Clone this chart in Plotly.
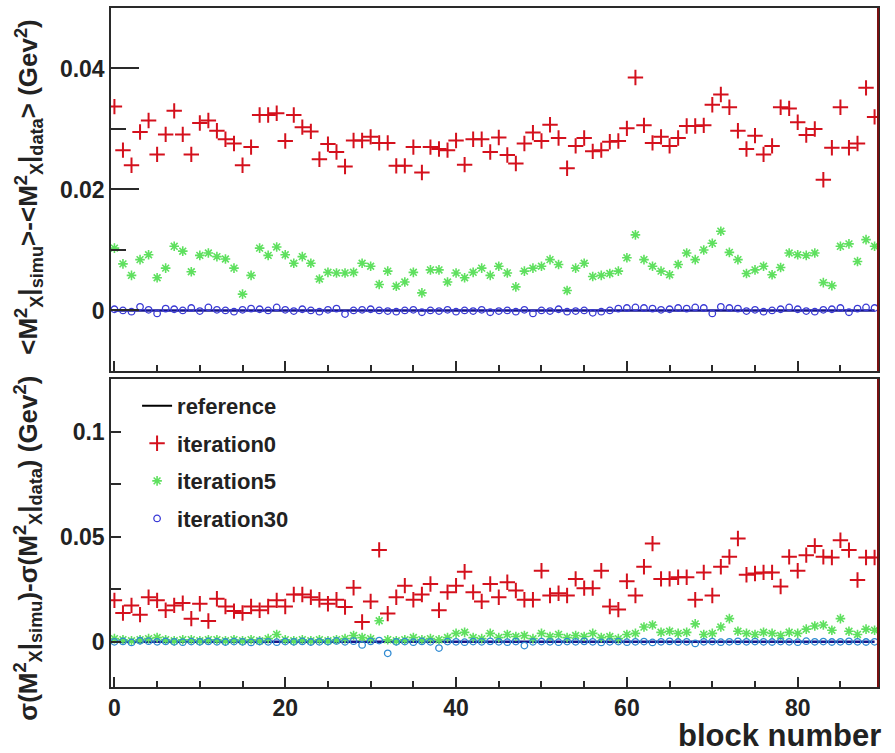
import plotly.graph_objects as go

blocks = list(range(90))

# top panel: <M2x|simu> - <M2x|data>  (GeV^2)
mean_iter0 = [0.0337, 0.0265, 0.0240, 0.0295, 0.0314, 0.0258, 0.0291, 0.0330, 0.0291, 0.0258,
              0.0310, 0.0314, 0.0297, 0.0283, 0.0276, 0.0240, 0.0270, 0.0323, 0.0323, 0.0326,
              0.0280, 0.0323, 0.0303, 0.0296, 0.0250, 0.0275, 0.0262, 0.0238, 0.0281, 0.0281,
              0.0287, 0.0277, 0.0277, 0.0239, 0.0239, 0.0270, 0.0228, 0.0270, 0.0267, 0.0265,
              0.0281, 0.0241, 0.0283, 0.0283, 0.0262, 0.0286, 0.0257, 0.0243, 0.0276, 0.0294,
              0.0280, 0.0307, 0.0285, 0.0235, 0.0272, 0.0285, 0.0263, 0.0265, 0.0279, 0.0280,
              0.0301, 0.0385, 0.0306, 0.0277, 0.0287, 0.0272, 0.0285, 0.0305, 0.0305, 0.0306,
              0.0340, 0.0357, 0.0336, 0.0297, 0.0267, 0.0289, 0.0258, 0.0272, 0.0336, 0.0334,
              0.0311, 0.0290, 0.0300, 0.0216, 0.0269, 0.0336, 0.0269, 0.0276, 0.0368, 0.0320]
mean_iter5 = [0.0103, 0.0077, 0.0058, 0.0084, 0.0092, 0.0054, 0.0070, 0.0106, 0.0098, 0.0064,
              0.0091, 0.0095, 0.0089, 0.0085, 0.0070, 0.0027, 0.0058, 0.0103, 0.0091, 0.0105,
              0.0092, 0.0078, 0.0089, 0.0078, 0.0052, 0.0063, 0.0062, 0.0062, 0.0063, 0.0078,
              0.0073, 0.0043, 0.0065, 0.0040, 0.0047, 0.0063, 0.0029, 0.0067, 0.0067, 0.0047,
              0.0062, 0.0054, 0.0063, 0.0070, 0.0058, 0.0073, 0.0062, 0.0039, 0.0065, 0.0070,
              0.0073, 0.0084, 0.0076, 0.0033, 0.0070, 0.0078, 0.0056, 0.0058, 0.0061, 0.0065,
              0.0087, 0.0125, 0.0084, 0.0073, 0.0065, 0.0059, 0.0076, 0.0095, 0.0084, 0.0100,
              0.0111, 0.0131, 0.0096, 0.0084, 0.0061, 0.0067, 0.0073, 0.0059, 0.0071, 0.0095,
              0.0092, 0.0091, 0.0095, 0.0046, 0.0041, 0.0106, 0.0110, 0.0081, 0.0117, 0.0106]
mean_iter30 = [0.0002, 0.0000, -0.0002, 0.0006, 0.0001, -0.0005, 0.0003, 0.0002, 0.0000, 0.0004,
               -0.0001, 0.0005, 0.0001, 0.0000, -0.0002, 0.0001, 0.0003, 0.0002, 0.0000, 0.0005,
               0.0001, -0.0001, 0.0002, 0.0000, -0.0002, 0.0001, 0.0003, -0.0006, 0.0000, 0.0001,
               0.0002, 0.0000, -0.0001, -0.0002, 0.0000, 0.0001, -0.0003, 0.0000, -0.0001, 0.0001,
               -0.0002, 0.0000, -0.0001, 0.0001, -0.0003, -0.0001, 0.0000, -0.0002, 0.0001, -0.0005,
               0.0000, -0.0001, 0.0002, -0.0002, -0.0001, 0.0000, -0.0004, -0.0002, 0.0000, 0.0003,
               0.0004, 0.0005, 0.0004, 0.0003, 0.0001, 0.0002, 0.0004, 0.0003, 0.0005, 0.0004,
               -0.0005, 0.0006, 0.0004, 0.0003, -0.0001, 0.0001, -0.0002, 0.0000, 0.0002, 0.0005,
               0.0002, -0.0001, -0.0002, 0.0001, 0.0002, 0.0004, -0.0003, 0.0003, 0.0005, 0.0004]

# bottom panel: sigma(M2x|simu) - sigma(M2x|data)  (GeV^2)
sig_iter0 = [0.0197, 0.0137, 0.0173, 0.0129, 0.0212, 0.0197, 0.0150, 0.0173, 0.0184, 0.0110,
             0.0181, 0.0099, 0.0205, 0.0168, 0.0146, 0.0137, 0.0168, 0.0150, 0.0168, 0.0197,
             0.0168, 0.0225, 0.0225, 0.0212, 0.0200, 0.0181, 0.0200, 0.0165, 0.0257, 0.0094,
             0.0192, 0.0437, 0.0134, 0.0212, 0.0267, 0.0200, 0.0225, 0.0275, 0.0150, 0.0236,
             0.0267, 0.0333, 0.0236, 0.0192, 0.0275, 0.0212, 0.0283, 0.0244, 0.0200, 0.0200,
             0.0338, 0.0220, 0.0231, 0.0220, 0.0299, 0.0255, 0.0255, 0.0338, 0.0168, 0.0153,
             0.0288, 0.0220, 0.0357, 0.0467, 0.0299, 0.0299, 0.0307, 0.0307, 0.0200, 0.0330,
             0.0220, 0.0357, 0.0404, 0.0491, 0.0319, 0.0325, 0.0330, 0.0330, 0.0263, 0.0404,
             0.0338, 0.0412, 0.0456, 0.0404, 0.0401, 0.0483, 0.0436, 0.0294, 0.0401, 0.0401]
sig_iter5 = [0.0015, 0.0010, 0.0005, 0.0010, 0.0015, 0.0020, 0.0010, 0.0005, 0.0010, 0.0010,
             0.0005, 0.0010, 0.0010, 0.0005, 0.0010, 0.0005, 0.0010, 0.0005, 0.0015, 0.0035,
             0.0010, 0.0005, 0.0010, 0.0005, 0.0010, 0.0005, 0.0010, 0.0015, 0.0030, 0.0020,
             0.0015, 0.0100, 0.0010, 0.0005, 0.0010, 0.0020, 0.0010, 0.0015, 0.0010, 0.0020,
             0.0040, 0.0045, 0.0020, 0.0015, 0.0040, 0.0020, 0.0035, 0.0025, 0.0030, 0.0015,
             0.0040, 0.0025, 0.0035, 0.0020, 0.0030, 0.0025, 0.0040, 0.0020, 0.0025, 0.0015,
             0.0035, 0.0040, 0.0070, 0.0080, 0.0045, 0.0050, 0.0040, 0.0045, 0.0085, 0.0035,
             0.0040, 0.0070, 0.0110, 0.0050, 0.0040, 0.0035, 0.0045, 0.0040, 0.0030, 0.0045,
             0.0040, 0.0060, 0.0075, 0.0080, 0.0055, 0.0110, 0.0050, 0.0035, 0.0060, 0.0055]
sig_iter30 = [0.0000, 0.0002, -0.0003, 0.0005, 0.0003, 0.0000, 0.0002, 0.0000, -0.0002, 0.0001,
              0.0000, 0.0002, 0.0000, -0.0001, 0.0001, 0.0000, -0.0003, 0.0002, 0.0000, -0.0002,
              0.0001, 0.0000, 0.0002, -0.0001, 0.0000, 0.0001, 0.0004, 0.0000, 0.0003, -0.0015,
              0.0002, 0.0006, -0.0055, 0.0000, 0.0001, -0.0002, 0.0002, 0.0000, -0.0030, 0.0001,
              0.0000, -0.0002, 0.0001, 0.0000, 0.0002, 0.0000, -0.0002, 0.0001, -0.0018, 0.0000,
              0.0001, 0.0000, -0.0002, 0.0001, 0.0000, 0.0002, 0.0000, -0.0003, 0.0000, 0.0001,
              -0.0002, 0.0000, 0.0001, -0.0003, 0.0000, 0.0002, -0.0001, 0.0000, -0.0008, 0.0000,
              0.0001, -0.0002, 0.0000, 0.0002, 0.0000, 0.0001, 0.0000, -0.0001, 0.0001, 0.0000,
              -0.0002, 0.0003, 0.0000, 0.0001, -0.0001, 0.0000, 0.0002, 0.0000, -0.0001, 0.0000]
reference = [0.0] * len(blocks)

RED = "#d4101c"
GREEN = "#5fe05f"
BLUE_TOP = "#3a3ad6"
BLUE_BOT = "#2f8ad2"
REF_COL = "#16168a"

FONT = "Liberation Sans"

fig = go.Figure()

# legend-only entry for reference (black line as in the original legend)
fig.add_trace(go.Scatter(x=[None], y=[None], mode="lines", name="reference",
                         line=dict(color="black", width=2), legendgroup="a",
                         xaxis="x", yaxis="y"))

for yax, xax, r0, r5, r30, bcol, show in [
    ("y", "x", mean_iter0, mean_iter5, mean_iter30, BLUE_TOP, True),
    ("y2", "x2", sig_iter0, sig_iter5, sig_iter30, BLUE_BOT, False),
]:
    fig.add_trace(go.Scatter(x=blocks, y=reference, mode="lines", showlegend=False,
                             line=dict(color=REF_COL, width=2.5), xaxis=xax, yaxis=yax))
    fig.add_trace(go.Scatter(x=blocks, y=r0, mode="markers", name="iteration0",
                             legendgroup="b", showlegend=show,
                             marker=dict(symbol="cross-thin-open", size=11, color=RED,
                                         line=dict(width=2, color=RED)),
                             xaxis=xax, yaxis=yax))
    fig.add_trace(go.Scatter(x=blocks, y=r5, mode="markers", name="iteration5",
                             legendgroup="c", showlegend=show,
                             marker=dict(symbol="asterisk-open", size=8, color=GREEN,
                                         line=dict(width=1.6, color=GREEN)),
                             xaxis=xax, yaxis=yax))
    fig.add_trace(go.Scatter(x=blocks, y=r30, mode="markers", name="iteration30",
                             legendgroup="d", showlegend=show,
                             marker=dict(symbol="circle-open", size=6.5, color=bcol,
                                         line=dict(width=1.3)),
                             xaxis=xax, yaxis=yax))

tickfont = dict(family=FONT, size=23, color="#222222", weight="bold")
axis_common = dict(showline=True, mirror=True, linecolor="#2a2a2a", linewidth=1.5,
                   showgrid=False, zeroline=False, ticks="inside", tickcolor="#2a2a2a",
                   tickwidth=1.5, tickfont=tickfont)

x_top = 0.4655
fig.update_layout(
    width=895, height=753,
    margin=dict(l=111, r=17, t=6, b=66),
    plot_bgcolor="white", paper_bgcolor="white",
    xaxis=dict(domain=[0, 1], anchor="y", range=[-0.4, 89.4], dtick=20, tick0=0, ticklen=10,
               showticklabels=False,
               minor=dict(dtick=5, ticklen=6, ticks="inside", tickcolor="#2a2a2a", tickwidth=1.5),
               **axis_common),
    yaxis=dict(domain=[x_top, 1], anchor="x", range=[-0.01, 0.05], dtick=0.02, tick0=0, ticklen=28,
               minor=dict(dtick=0.01, ticklen=15, ticks="inside", tickcolor="#2a2a2a", tickwidth=1.5),
               **axis_common),
    xaxis2=dict(domain=[0, 1], anchor="y2", matches="x", range=[-0.4, 89.4], dtick=20, tick0=0,
                ticklen=10,
                minor=dict(dtick=5, ticklen=6, ticks="inside", tickcolor="#2a2a2a", tickwidth=1.5),
                **axis_common),
    yaxis2=dict(domain=[0, 0.4537], anchor="x2", range=[-0.0215, 0.125], dtick=0.05, tick0=0,
                ticklen=10,
                minor=dict(dtick=0.025, ticklen=10, ticks="inside", tickcolor="#2a2a2a", tickwidth=1.5),
                **axis_common),
    legend=dict(x=0.034, y=0.445, xanchor="left", yanchor="top", bgcolor="rgba(0,0,0,0)",
                font=dict(family=FONT, size=22, color="#222222", weight="bold"),
                tracegroupgap=6, traceorder="grouped"),
    showlegend=True,
)

# dark red right edges of both frames
for yd in ["y domain", "y2 domain"]:
    fig.add_shape(type="line", xref="paper", yref=yd, x0=1, x1=1, y0=0, y1=1,
                  line=dict(color="#7a1010", width=2))

title_font = dict(family=FONT, size=26, color="#222222", weight="bold")
fig.add_annotation(
    text="&lt;M<sup>2</sup><sub>X</sub>|<sub>simu</sub>&gt;-&lt;M<sup>2</sup><sub>X</sub>|<sub>data</sub>&gt; (Gev<sup>2</sup>)",
    xref="paper", yref="paper", x=-0.108, y=0.737, textangle=-90,
    showarrow=False, font=title_font, xanchor="center", yanchor="middle")
fig.add_annotation(
    text="σ(M<sup>2</sup><sub>X</sub>|<sub>simu</sub>)-σ(M<sup>2</sup><sub>X</sub>|<sub>data</sub>) (Gev<sup>2</sup>)",
    xref="paper", yref="paper", x=-0.108, y=0.204, textangle=-90,
    showarrow=False, font=title_font, xanchor="center", yanchor="middle")
fig.add_annotation(
    text="block number", xref="paper", yref="paper", x=1.006, y=-0.071,
    showarrow=False, font=dict(family=FONT, size=31, color="#222222", weight="bold"),
    xanchor="right", yanchor="middle")

fig.write_html("out.html", post_script="document.body.style.margin='0px';",
               config={"displayModeBar": False})
